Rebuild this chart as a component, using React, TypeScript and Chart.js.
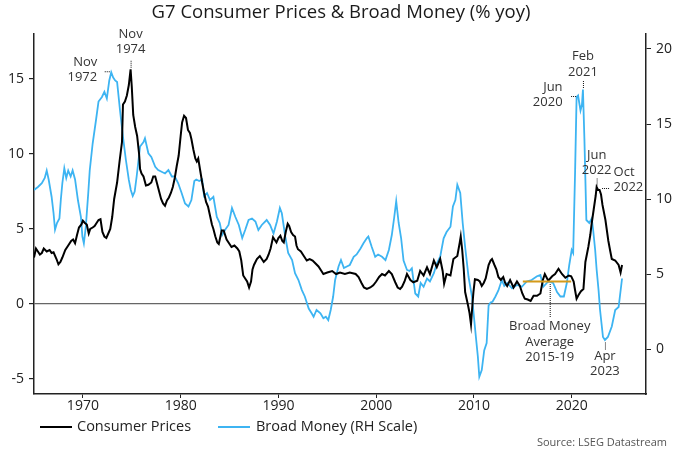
import React, { useEffect, useRef } from "react";
import { Chart, registerables } from "chart.js";

Chart.register(...registerables);

const TITLE = "G7 Consumer Prices & Broad Money (% yoy)";
const SOURCE = "Source: LSEG Datastream";
const seriesNames = ["Consumer Prices", "Broad Money (RH Scale)"];

const cpiYears = [
  1965.0, 1965.2, 1965.4, 1965.6, 1965.8, 1966.0, 1966.3, 1966.6, 1966.8, 1967.0, 1967.3, 1967.5, 1967.7, 1967.9,
  1968.2, 1968.5, 1968.8, 1969.0, 1969.2, 1969.4, 1969.6, 1969.85, 1970.0, 1970.2, 1970.4, 1970.6, 1970.75, 1971.0,
  1971.2, 1971.4, 1971.6, 1971.8, 1972.0, 1972.2, 1972.4, 1972.6, 1972.8, 1973.0, 1973.2, 1973.5, 1973.75, 1974.0,
  1974.1, 1974.3, 1974.5, 1974.7, 1974.88, 1975.0, 1975.15, 1975.35, 1975.55, 1975.75, 1975.85, 1976.0, 1976.2,
  1976.45, 1976.7, 1977.0, 1977.2, 1977.4, 1977.6, 1977.8, 1978.0, 1978.2, 1978.4, 1978.6, 1978.8, 1979.0, 1979.2,
  1979.4, 1979.6, 1979.8, 1980.0, 1980.15, 1980.35, 1980.55, 1980.75, 1980.95, 1981.1, 1981.3, 1981.5, 1981.65,
  1981.8, 1982.0, 1982.2, 1982.4, 1982.6, 1982.8, 1983.0, 1983.2, 1983.35, 1983.55, 1983.75, 1983.9, 1984.2, 1984.4,
  1984.7, 1985.0, 1985.2, 1985.5, 1985.8, 1986.0, 1986.2, 1986.4, 1986.6, 1986.8, 1987.0, 1987.2, 1987.35, 1987.5,
  1987.8, 1988.1, 1988.3, 1988.5, 1988.8, 1989.0, 1989.2, 1989.45, 1989.6, 1989.8, 1990.0, 1990.2, 1990.4, 1990.55,
  1990.75, 1990.95, 1991.1, 1991.3, 1991.5, 1991.7, 1991.85, 1992.0, 1992.3, 1992.6, 1992.9, 1993.2, 1993.5, 1993.8,
  1994.1, 1994.4, 1994.6, 1995.0, 1995.5, 1995.9, 1996.3, 1996.8, 1997.3, 1997.9, 1998.2, 1998.5, 1998.75, 1999.05,
  1999.4, 1999.7, 2000.0, 2000.3, 2000.6, 2000.9, 2001.3, 2001.6, 2001.95, 2002.2, 2002.45, 2002.65, 2002.9, 2003.15,
  2003.5, 2003.8, 2004.2, 2004.5, 2004.85, 2005.2, 2005.5, 2005.9, 2006.2, 2006.55, 2006.8, 2006.95, 2007.2, 2007.6,
  2007.9, 2008.3, 2008.55, 2008.65, 2008.8, 2008.95, 2009.1, 2009.4, 2009.55, 2009.7, 2009.85, 2009.95, 2010.1,
  2010.4, 2010.6, 2010.8, 2011.0, 2011.2, 2011.5, 2011.7, 2011.85, 2012.1, 2012.3, 2012.5, 2012.75, 2013.0, 2013.2,
  2013.4, 2013.7, 2014.05, 2014.4, 2014.7, 2014.95, 2015.2, 2015.5, 2015.8, 2016.1, 2016.45, 2016.8, 2017.05, 2017.25,
  2017.6, 2018.0, 2018.3, 2018.65, 2019.0, 2019.35, 2019.7, 2019.95, 2020.2, 2020.35, 2020.5, 2020.7, 2020.95, 2021.2,
  2021.4, 2021.7, 2021.9, 2022.05, 2022.25, 2022.45, 2022.55, 2022.7, 2022.85, 2023.0, 2023.15, 2023.45, 2023.75,
  2023.95, 2024.1, 2024.45, 2024.8, 2025.0, 2025.15,
];
const cpiValues = [
  3.1, 3.7, 3.5, 3.3, 3.4, 3.7, 3.5, 3.6, 3.4, 3.45, 3.0, 2.65, 2.8, 3.1,
  3.6, 3.9, 4.2, 4.3, 4.05, 4.6, 5.1, 5.3, 5.55, 5.4, 5.3, 4.7, 5.0, 5.1,
  5.2, 5.4, 5.6, 5.65, 4.8, 4.5, 4.4, 4.7, 5.0, 5.8, 7.0, 8.1, 9.5, 10.8,
  13.3, 13.5, 13.9, 14.6, 15.65, 14.5, 12.6, 11.8, 11.2, 10.0, 9.0, 8.7, 8.5,
  7.9, 7.95, 8.1, 8.5, 8.5, 8.0, 7.5, 7.0, 6.7, 6.55, 6.9, 7.1, 7.4, 7.8,
  8.4, 9.2, 9.9, 11.2, 12.1, 12.55, 12.4, 11.6, 11.4, 11.0, 10.3, 9.7, 9.5,
  9.7, 8.9, 8.1, 7.4, 6.8, 6.5, 5.9, 5.3, 5.0, 4.5, 4.1, 4.0, 4.9, 4.9,
  4.3, 4.0, 3.8, 3.9, 3.7, 3.5, 2.9, 1.9, 1.7, 1.5, 1.1, 1.5, 2.3, 2.6,
  3.0, 3.2, 3.0, 2.8, 3.0, 3.3, 3.7, 4.45, 4.3, 4.1, 4.4, 4.55, 4.2, 4.1,
  4.8, 5.35, 5.2, 4.8, 4.6, 4.5, 3.9, 3.65, 3.5, 3.2, 2.9, 3.0, 2.9, 2.7,
  2.5, 2.2, 2.0, 2.1, 2.2, 2.0, 2.1, 2.0, 2.1, 2.0, 1.8, 1.4, 1.1, 1.0,
  1.1, 1.25, 1.5, 1.8, 2.0, 1.9, 2.2, 2.0, 1.45, 1.1, 1.0, 1.15, 1.5, 2.0,
  1.6, 1.45, 1.55, 2.2, 1.9, 2.45, 2.0, 2.9, 2.45, 3.0, 2.2, 1.35, 2.0, 1.9,
  3.0, 3.2, 4.1, 4.5, 3.6, 2.4, 0.8, -0.1, -0.6, -1.35, 0.0, 0.8, 1.65,
  1.6, 1.5, 1.2, 1.4, 1.7, 2.6, 2.9, 3.0, 2.6, 2.3, 1.8, 1.6, 1.8, 1.4,
  1.2, 1.6, 1.1, 1.5, 1.2, 0.7, 0.35, 0.3, 0.2, 0.55, 0.55, 0.7, 1.6, 2.0,
  1.55, 1.85, 2.0, 2.35, 2.0, 1.75, 1.9, 1.85, 1.5, 0.9, 0.35, 0.6, 0.85, 1.0,
  2.8, 3.8, 4.6, 5.4, 6.3, 7.2, 7.8, 7.6, 7.6, 7.3, 6.6, 5.6, 4.2,
  3.5, 3.0, 2.9, 2.6, 2.1, 2.6,
];

const moneyYears = [
  1965.0, 1965.4, 1965.8, 1966.1, 1966.3, 1966.5, 1966.8, 1967.0, 1967.15, 1967.35, 1967.6, 1967.75, 1967.9, 1968.1,
  1968.3, 1968.5, 1968.75, 1968.95, 1969.2, 1969.5, 1969.8, 1969.95, 1970.1, 1970.3, 1970.55, 1970.7, 1971.0, 1971.35,
  1971.6, 1971.95, 1972.2, 1972.45, 1972.7, 1972.9, 1973.1, 1973.3, 1973.5, 1973.8, 1974.1, 1974.4, 1974.7, 1974.9,
  1975.1, 1975.3, 1975.5, 1975.85, 1976.2, 1976.35, 1976.7, 1977.0, 1977.4, 1977.7, 1978.1, 1978.4, 1978.75, 1979.1,
  1979.4, 1979.75, 1980.1, 1980.45, 1980.8, 1981.1, 1981.4, 1981.6, 1981.9, 1982.2, 1982.4, 1982.7, 1983.0, 1983.35,
  1983.7, 1984.0, 1984.25, 1984.55, 1984.9, 1985.25, 1985.6, 1985.95, 1986.3, 1986.6, 1986.95, 1987.3, 1987.65,
  1987.95, 1988.3, 1988.8, 1989.15, 1989.5, 1989.85, 1990.15, 1990.35, 1990.7, 1991.0, 1991.4, 1991.7, 1992.05,
  1992.4, 1992.7, 1993.1, 1993.4, 1993.6, 1993.9, 1994.3, 1994.6, 1994.85, 1995.1, 1995.35, 1995.6, 1995.8, 1996.15,
  1996.4, 1996.7, 1997.0, 1997.3, 1997.7, 1998.0, 1998.4, 1998.7, 1999.05, 1999.2, 1999.55, 1999.9, 2000.2, 2000.6,
  2000.95, 2001.3, 2001.6, 2001.85, 2002.05, 2002.3, 2002.55, 2002.8, 2003.15, 2003.4, 2003.65, 2004.0, 2004.3,
  2004.55, 2004.85, 2005.2, 2005.5, 2005.9, 2006.2, 2006.55, 2006.9, 2007.2, 2007.6, 2007.85, 2008.1, 2008.3, 2008.6,
  2008.85, 2009.1, 2009.45, 2009.8, 2010.0, 2010.2, 2010.4, 2010.55, 2010.8, 2011.05, 2011.3, 2011.5, 2011.7, 2011.9,
  2012.2, 2012.5, 2012.85, 2013.1, 2013.4, 2013.9, 2014.4, 2014.9, 2015.4, 2015.9, 2016.45, 2016.8, 2017.1, 2017.6,
  2018.1, 2018.5, 2018.85, 2019.2, 2019.5, 2019.75, 2020.0, 2020.15, 2020.35, 2020.5, 2020.65, 2020.9, 2021.05,
  2021.15, 2021.3, 2021.5, 2021.8, 2022.05, 2022.2, 2022.4, 2022.55, 2022.75, 2022.9, 2023.05, 2023.2, 2023.4,
  2023.7, 2024.1, 2024.45, 2024.8, 2025.15,
];
const moneyValues = [
  10.6, 10.8, 11.05, 11.4, 11.9, 11.3, 10.15, 9.05, 7.95, 8.4, 8.7, 10.0, 11.05, 12.05,
  11.4, 11.9, 11.5, 11.9, 11.3, 9.9, 8.8, 7.5, 7.05, 8.15, 10.4, 11.9, 13.7, 15.3,
  16.5, 16.8, 17.15, 16.7, 17.9, 18.45, 18.1, 17.9, 17.8, 15.9, 14.15, 12.6, 11.27, 10.6,
  10.2, 10.5, 11.5, 13.5, 13.8, 14.05, 13.05, 12.8, 12.15, 11.93, 11.8, 11.7, 11.93, 11.5,
  11.5, 11.05, 10.4, 9.7, 9.5, 9.93, 11.2, 11.3, 11.2, 11.3, 10.2, 10.4, 9.93, 10.15,
  8.8, 8.4, 7.6, 7.95, 8.27, 9.4, 8.8, 8.27, 7.4, 7.93, 8.6, 8.7, 8.5,
  7.93, 8.27, 8.6, 8.27, 7.7, 8.5, 9.4, 9.05, 7.5, 6.4, 5.93, 5.05, 4.6,
  3.93, 3.5, 2.7, 2.38, 2.15, 2.6, 2.38, 2.05, 2.15, 1.93, 2.6, 3.5, 4.6, 5.5,
  5.93, 5.4, 5.5, 5.6, 6.15, 6.3, 6.7, 7.05, 7.4, 7.5, 6.8, 6.15, 6.3, 6.15,
  5.93, 6.6, 7.6, 8.8, 9.85, 8.4, 7.4, 5.9, 5.27, 5.2, 5.38, 3.7, 3.5,
  4.4, 4.15, 4.7, 4.5, 5.05, 5.7, 6.15, 7.38, 7.8, 8.15, 9.5, 9.93, 10.95, 10.4,
  8.4, 6.8, 4.8, 3.5, 2.15, 0.8, -0.5, -1.85, -1.4, -0.1, 0.4, 2.9, 3.1, 3.15,
  3.5, 3.9, 4.6, 4.2, 4.4, 4.05, 4.27, 4.15, 4.5, 4.6, 4.85, 4.93, 4.15, 4.5,
  4.4, 3.8, 3.5, 3.5, 4.4, 5.6, 6.6, 6.4, 11.9, 16.8, 16.9, 15.9, 16.3,
  17.3, 14.0, 8.6, 8.4, 8.7, 7.9, 6.6, 5.3, 3.9, 2.6, 1.7, 0.8, 0.6,
  0.8, 1.5, 2.6, 2.8, 4.7,
];

const avgYears = [2015.0, 2019.95];
const avgValues = [4.5, 4.5];

const xTicks = [1970, 1980, 1990, 2000, 2010, 2020];
const leftTicks = [-5, 0, 5, 10, 15];
const rightTicks = [0, 5, 10, 15, 20];

const FONT = '"Open Sans", "Noto Sans", sans-serif';
const BLUE = "#3db4f2";
const BLACK = "#000000";
const ORANGE = "#d49a1a";
const AXIS = "#222222";

type Note = {
  lines: string[];
  year: number;
  value: number;
  axis: "yL" | "yR";
  lead: [number, number, number, number];
  align: "left" | "right" | "center";
  dx: number;
  dy: number;
};

const notes: Note[] = [
  { lines: ["Nov", "1972"], year: 1972.9, value: 18.45, axis: "yR", lead: [-7, -1, -1, -1], align: "right", dx: -14, dy: -10 },
  { lines: ["Nov", "1974"], year: 1974.88, value: 15.65, axis: "yL", lead: [0, -9, 0, -2], align: "center", dx: 0, dy: -35 },
  { lines: ["Jun", "2020"], year: 2020.5, value: 16.8, axis: "yR", lead: [-6, -1, -1, -1], align: "right", dx: -14, dy: -10 },
  { lines: ["Feb", "2021"], year: 2021.15, value: 17.3, axis: "yR", lead: [0, -9, 0, -1], align: "center", dx: 0, dy: -33 },
  { lines: ["Jun", "2022"], year: 2022.55, value: 7.8, axis: "yL", lead: [0, -9, 0, -2], align: "center", dx: 0, dy: -32 },
  { lines: ["Oct", "2022"], year: 2022.85, value: 7.6, axis: "yL", lead: [2, -2, 9, -2], align: "left", dx: 14, dy: -18 },
  { lines: ["Apr", "2023"], year: 2023.4, value: 0.6, axis: "yR", lead: [0, 2, 0, 9], align: "center", dx: 0, dy: 16 },
  { lines: ["Broad Money", "Average", "2015-19"], year: 2017.75, value: 4.5, axis: "yR", lead: [0, 2, 0, 36], align: "center", dx: 0, dy: 45 },
];

const toPoints = (xs: number[], ys: number[]) => xs.map((x, i) => ({ x, y: ys[i] }));

const overlayPlugin = {
  id: "overlay",
  afterDraw(chart: any) {
    const ctx = chart.ctx as CanvasRenderingContext2D;
    const xs = chart.scales.x;
    ctx.save();
    // title
    ctx.fillStyle = "#1a1a1a";
    ctx.font = `18.5px ${FONT}`;
    ctx.textAlign = "center";
    ctx.textBaseline = "middle";
    ctx.fillText(TITLE, 341, 13);

    // annotations
    ctx.font = `13px ${FONT}`;
    for (const n of notes) {
      const ax = xs.getPixelForValue(n.year);
      const ay = chart.scales[n.axis].getPixelForValue(n.value);
      ctx.strokeStyle = "#111";
      ctx.lineWidth = 1;
      ctx.setLineDash([1, 1]);
      ctx.beginPath();
      ctx.moveTo(ax + n.lead[0] + 0.5, ay + n.lead[1] + 0.5);
      ctx.lineTo(ax + n.lead[2] + 0.5, ay + n.lead[3] + 0.5);
      ctx.stroke();
      ctx.setLineDash([]);
      ctx.fillStyle = "#333";
      ctx.textAlign = n.align;
      ctx.textBaseline = "middle";
      n.lines.forEach((t, i) => ctx.fillText(t, ax + n.dx, ay + n.dy + i * 15.5));
    }

    // legend
    const ly = 427;
    ctx.lineWidth = 2;
    ctx.strokeStyle = BLACK;
    ctx.beginPath();
    ctx.moveTo(40, ly);
    ctx.lineTo(72, ly);
    ctx.stroke();
    ctx.strokeStyle = BLUE;
    ctx.beginPath();
    ctx.moveTo(218, ly);
    ctx.lineTo(250, ly);
    ctx.stroke();
    ctx.fillStyle = "#222";
    ctx.font = `14.5px ${FONT}`;
    ctx.textAlign = "left";
    ctx.textBaseline = "middle";
    ctx.fillText(seriesNames[0], 77, ly);
    ctx.fillText(seriesNames[1], 256, ly);

    // source
    ctx.fillStyle = "#555";
    ctx.font = `11px ${FONT}`;
    ctx.textAlign = "right";
    ctx.fillText(SOURCE, 667, 443);
    ctx.restore();
  },
};

export default function App() {
  const ref = useRef<HTMLCanvasElement>(null);
  useEffect(() => {
    if (!ref.current) return;
    const tickFont = { family: FONT, size: 14 };
    const chart = new Chart(ref.current, {
      type: "line",
      data: {
        datasets: [
          {
            label: "Average",
            data: toPoints(avgYears, avgValues),
            yAxisID: "yR",
            borderColor: ORANGE,
            borderWidth: 2,
            pointRadius: 0,
          },
          {
            label: seriesNames[0],
            data: toPoints(cpiYears, cpiValues),
            yAxisID: "yL",
            borderColor: BLACK,
            borderWidth: 2,
            pointRadius: 0,
          },
          {
            label: seriesNames[1],
            data: toPoints(moneyYears, moneyValues),
            yAxisID: "yR",
            borderColor: BLUE,
            borderWidth: 1.8,
            pointRadius: 0,
          },
        ],
      },
      options: {
        animation: false,
        responsive: false,
        devicePixelRatio: 1,
        parsing: false as any,
        layout: { padding: { top: 34, left: 0, right: 0, bottom: 0 } },
        plugins: { legend: { display: false }, title: { display: false }, tooltip: { enabled: false } },
        elements: { line: { tension: 0 }, point: { radius: 0 } },
        scales: {
          x: {
            type: "linear",
            min: 1965,
            max: 2027.6,
            afterBuildTicks: (a: any) => {
              a.ticks = xTicks.map((v) => ({ value: v }));
            },
            afterFit: (s: any) => {
              s.height = 59;
            },
            grid: { drawOnChartArea: false, drawTicks: true, tickLength: 4, tickColor: AXIS },
            border: { color: AXIS, width: 1.5 },
            ticks: { font: tickFont, color: "#222", padding: 0, maxRotation: 0, autoSkip: false, callback: (v: any) => String(v) },
          },
          yL: {
            type: "linear",
            position: "left",
            min: -6,
            max: 18,
            afterBuildTicks: (a: any) => {
              a.ticks = leftTicks.map((v) => ({ value: v }));
            },
            afterFit: (s: any) => {
              s.width = 34;
            },
            grid: {
              drawOnChartArea: true,
              color: (c: any) => (c.tick && c.tick.value === 0 ? "#666" : "rgba(0,0,0,0)"),
              lineWidth: 1.2,
              tickColor: AXIS,
              tickLength: 5,
            },
            border: { color: AXIS, width: 1.5 },
            ticks: { font: tickFont, color: "#222", padding: 5, callback: (v: any) => String(v) },
          },
          yR: {
            type: "linear",
            position: "right",
            min: -3,
            max: 21,
            afterBuildTicks: (a: any) => {
              a.ticks = rightTicks.map((v) => ({ value: v }));
            },
            afterFit: (s: any) => {
              s.width = 34;
            },
            grid: { drawOnChartArea: false, tickColor: AXIS, tickLength: 5 },
            border: { color: AXIS, width: 1.5 },
            ticks: { font: tickFont, color: "#222", padding: 5, callback: (v: any) => String(v) },
          },
        },
      },
      plugins: [overlayPlugin],
    } as any);
    return () => chart.destroy();
  }, []);

  return (
    <div style={{ position: "fixed", left: 0, top: 0, width: 680, height: 453, background: "#fff" }}>
      <canvas ref={ref} width={680} height={453} style={{ width: 680, height: 453, display: "block" }} />
    </div>
  );
}
